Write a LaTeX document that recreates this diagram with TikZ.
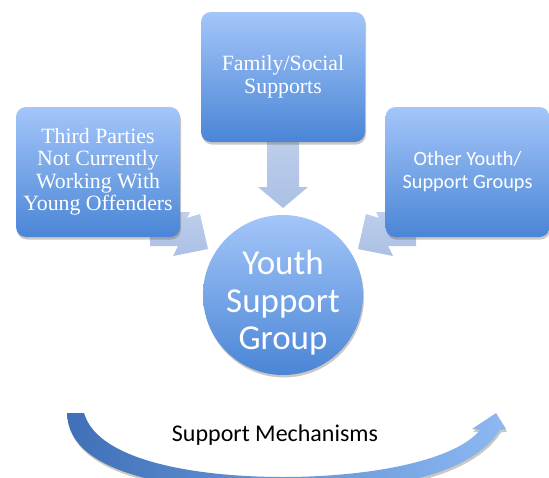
\documentclass[tikz,border=0pt]{standalone}
\usepackage{fontspec}
\setmainfont{Liberation Serif}
\newfontfamily\calibri{Carlito}
\usetikzlibrary{shadows}
\definecolor{boxtop}{HTML}{A4C6F9}
\definecolor{boxbot}{HTML}{4A85D6}
\definecolor{arrtop}{HTML}{BACBEA}
\definecolor{arrbot}{HTML}{A7BDE4}
\definecolor{bandL}{HTML}{3F70B8}
\definecolor{bandR}{HTML}{8DB8F3}
\definecolor{shad}{HTML}{6B5E50}
\tikzset{
  myshadow/.style={drop shadow={shadow xshift=1pt, shadow yshift=-2.5pt, opacity=0.35, fill=shad}},
  srcbox/.style={rectangle, rounded corners=10pt, minimum width=164pt, minimum height=130pt,
     top color=boxtop, bottom color=boxbot, text=white, align=center, inner sep=0pt, myshadow},
  hub/.style={circle, minimum size=160pt, top color=boxtop, bottom color=boxbot, inner sep=0pt, myshadow},
  blockarrow/.style={top color=arrtop, bottom color=arrbot, fill opacity=0.95},
  serifbig/.style={font=\fontsize{21.8}{22.5}\selectfont},
  sansbig/.style={font=\calibri\fontsize{20.3}{23}\selectfont}
}
\begin{document}
\begin{tikzpicture}[x=1pt,y=-1pt]
\useasboundingbox (0,0) rectangle (549,477);
\clip (0,0) rectangle (549,477);

% block arrows (behind boxes)
\path[blockarrow] (267,140) -- (299,140) -- (299,187) -- (308,187) -- (283,208) -- (258,187) -- (267,187) -- cycle;
\path[blockarrow] (150,212) -- (190,212) -- (187,218) -- (200,214) -- (208,249) -- (173,256) -- (178,246) -- (150,246) -- cycle;
\path[blockarrow] (416,212) -- (376,212) -- (379,218) -- (366,214) -- (358,249) -- (393,256) -- (388,246) -- (416,246) -- cycle;

% boxes
\node[srcbox, serifbig] (tp) at (98,172) {Third Parties\\Not Currently\\Working With\\Young Offenders};
\node[srcbox, serifbig] (fs) at (283,77) {Family/Social\\Supports};
\node[srcbox, sansbig] (oy) at (467.5,172) {Other Youth/\\Support Groups};

% hub
\node[hub] (ysg) at (283,295) {};
\node[text=white, align=center, font=\calibri\fontsize{35}{37.5}\selectfont] (ysgt) at (283,303) {Youth\\Support\\Group};

% curved band arrow
\path[left color=bandL, right color=bandR, myshadow]
  (84,413) .. controls (98,462) and (200,477) .. (283,477)
  .. controls (372,477) and (456,460) .. (480,430)
  -- (472,429) -- (496,413) -- (506,429) -- (500,430)
  .. controls (468,480) and (370,492) .. (283,492)
  .. controls (190,492) and (68,478) .. (67,413) -- cycle;

\node[anchor=base, font=\calibri\fontsize{24}{26}\selectfont] (sm) at (275,441) {Support Mechanisms};
\end{tikzpicture}
\end{document}
